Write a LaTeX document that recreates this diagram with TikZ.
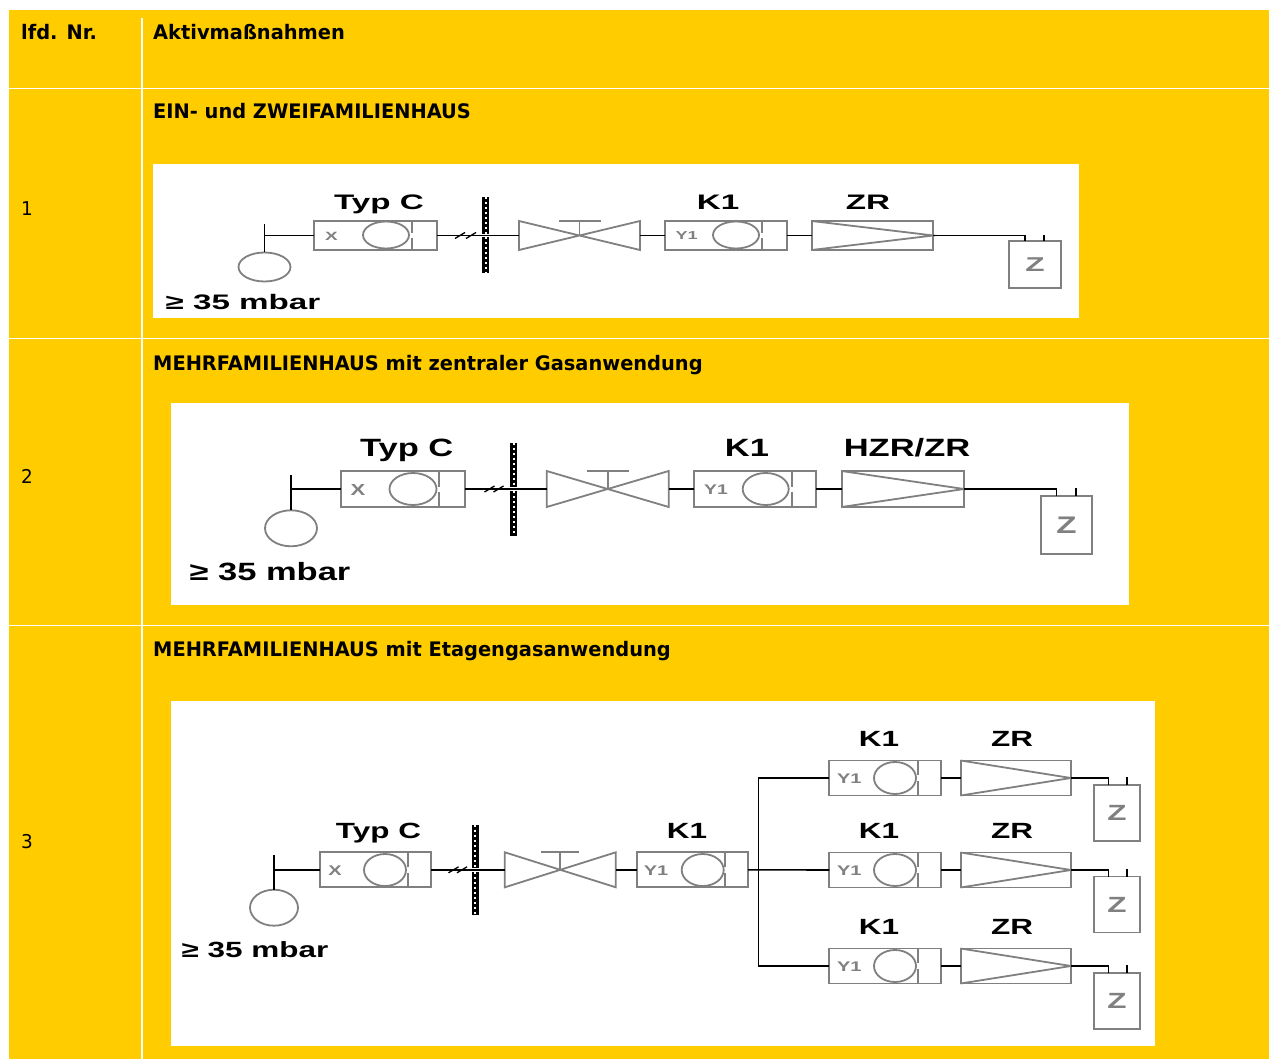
\documentclass[tikz,border=0pt]{standalone}
\usepackage{fontspec}
\usepackage{xcolor}
\setmainfont{DejaVu Sans}[FakeStretch=0.97]
\newfontfamily\labA[FakeStretch=1.58]{Liberation Sans}
\newfontfamily\labB[FakeStretch=1.38]{Liberation Sans}
\newfontfamily\labC[FakeStretch=1.43]{Liberation Sans}
\definecolor{tabgelb}{HTML}{FFCC00}
\definecolor{grau}{HTML}{808080}

% one px of the table = 1pt
\tikzset{
    kopf/.style={anchor=base west, inner sep=0pt, font=\fontsize{20}{22}\selectfont\bfseries},
    nummer/.style={anchor=base west, inner sep=0pt, font=\fontsize{19}{22}\selectfont},
    feld/.style={fill=white, draw=none},
    rahmen/.style={draw=grau, line width=1.8pt},
    leitung/.style={draw=black, line width=1.6pt},
    kasten/.style 2 args={rahmen, inner sep=0pt, outer sep=0pt, minimum width=#1pt, minimum height=#2pt},
    ventilfeld/.style 2 args={inner sep=0pt, outer sep=0pt, minimum width=#1pt, minimum height=#2pt},
    oval/.style 2 args={ellipse, rahmen, inner sep=0pt, outer sep=0pt, minimum width=#1pt, minimum height=#2pt},
    wandteil/.style 2 args={fill=black, inner sep=0pt, outer sep=0pt, minimum width=#1pt, minimum height=#2pt,
        path picture={\draw[white, line width=2pt, dash pattern=on 2pt off 3pt]
            (path picture bounding box.north) -- (path picture bounding box.south);}},
    stichwort/.style={anchor=base, inner sep=0pt, text=black},
    innen/.style={inner sep=0pt, text=grau},
}
\usetikzlibrary{shapes.geometric}

% divider of a pressure regulator, with the small gap at the middle
\newcommand{\trenn}[3]{
    \draw[rahmen] ([xshift=#2pt]#1.north) -- ([xshift=#2pt,yshift=#3pt]#1.center)
                  ([xshift=#2pt]#1.south) -- ([xshift=#2pt,yshift=-#3pt]#1.center);
}
\newcommand{\ventil}[2]{
    \draw[rahmen] (#1.north west) -- (#1.south east) -- (#1.north east) -- (#1.south west) -- cycle;
    \draw[rahmen] (#1.center) -- (#1.north) ([xshift=-#2pt]#1.north) -- ([xshift=#2pt]#1.north);
}
\newcommand{\konus}[1]{
    \draw[rahmen] (#1.north west) -- (#1.east) -- (#1.south west);
}
\newcommand{\schraeg}[3]{
    \draw[leitung, line width=1.3pt] ([shift={(#2-5,3)}]#1) -- ([shift={(#2+5,-3)}]#1)
                                     ([shift={(#3-5,3)}]#1) -- ([shift={(#3+5,-3)}]#1);
}

\begin{document}
\begin{tikzpicture}[x=1pt, y=-1pt]
    \useasboundingbox (0,0) rectangle (1269,1059);
    \fill[tabgelb] (9,10) rectangle (1269,1059);
    \draw[white, line width=1.3pt] (142,18) -- (142,1059);
    \draw[white, line width=1.1pt] (9,88.5) -- (1269,88.5) (9,338.5) -- (1269,338.5) (9,625.5) -- (1269,625.5);

    \node[kopf] (lfd) at (21,40) {lfd. Nr.};
    \node[kopf] (akt) at (153,40) {Aktivmaßnahmen};
    \node[nummer] (n1) at (21,216) {1};
    \node[nummer] (n2) at (21,483) {2};
    \node[nummer] (n3) at (21,848) {3};
    \node[kopf] (t1) at (153,119) {EIN- und ZWEIFAMILIENHAUS};
    \node[kopf] (t2) at (153,370) {MEHRFAMILIENHAUS mit zentraler Gasanwendung};
    \node[kopf] (t3) at (153,656) {MEHRFAMILIENHAUS mit Etagengasanwendung};

    % Zeile 1
    \fill[feld] (153,164) rectangle (1079,318);
    \node[oval={52}{29}] (m1) at (264.5,267) {};
    \coordinate (s1) at (264.5,224);
    \node[kasten={123}{29}] (r1) at (375.5,235.5) {};
    \node[innen, font=\labA\bfseries\fontsize{12}{12}\selectfont] (r1x) at (331.5,236) {X};
    \node[oval={46}{27}] (r1o) at (386,235) {};
    \trenn{r1}{36.2}{2.5}
    \node[wandteil={7.5}{36.5}] (w1a) at (485.5,215.75) {};
    \node[wandteil={7.5}{36.2}] (w1b) at (485.5,255.4) {};
    \node[ventilfeld={121}{29}] (v1) at (579.5,235.5) {};
    \ventil{v1}{21}
    \node[kasten={122}{29}] (k1) at (725.7,235.5) {};
    \node[innen, font=\labA\bfseries\fontsize{11.5}{12}\selectfont] (k1y) at (686.7,236) {Y1};
    \node[oval={46}{27}] (k1o) at (736,235) {};
    \trenn{k1}{36}{2.5}
    \node[kasten={121.6}{29}] (zr1) at (872.5,235.5) {};
    \konus{zr1}
    \node[kasten={51.7}{47}, text=grau, font=\labA\bfseries\fontsize{20}{20}\selectfont] (z1) at (1035,264.5) {Z};
    \draw[leitung] (m1.north) -- (s1);
    \draw[leitung] (s1 |- r1.west) -- (r1.west);
    \draw[leitung] (r1.east) -- (v1.west);
    \schraeg{r1.east}{23}{34}
    \draw[leitung] (v1.east) -- (k1.west);
    \draw[leitung] (k1.east) -- (zr1.west);
    \draw[leitung] (zr1.east) -| ([xshift=-10pt]z1.north);
    \draw[leitung] ([xshift=9pt]z1.north) -- ++(0,-6);
    \node[stichwort, font=\labA\bfseries\fontsize{21}{22}\selectfont] (l1a) at (379,210) {Typ C};
    \node[stichwort, font=\labA\bfseries\fontsize{21}{22}\selectfont] (l1b) at (718,210) {K1};
    \node[stichwort, font=\labA\bfseries\fontsize{21}{22}\selectfont] (l1c) at (868,210) {ZR};
    \node[stichwort, font=\labA\bfseries\fontsize{21}{22}\selectfont] (d1) at (243,310) {≥ 35 mbar};

    % Zeile 2
    \fill[feld] (171,403) rectangle (1129,605);
    \node[oval={52}{36}] (m2) at (291,528.3) {};
    \coordinate (s2) at (291,475);
    \node[kasten={124}{36}] (r2) at (403,489) {};
    \node[innen, font=\labB\bfseries\fontsize{16}{16}\selectfont] (r2x) at (358,490) {X};
    \node[oval={47}{32}] (r2o) at (413,489) {};
    \trenn{r2}{36}{2.5}
    \node[wandteil={7}{44}] (w2a) at (513.5,464.7) {};
    \node[wandteil={7}{44.7}] (w2b) at (513.5,513.35) {};
    \node[ventilfeld={122}{36}] (v2) at (607.7,489) {};
    \ventil{v2}{21}
    \node[kasten={122}{36}] (k2) at (755,489) {};
    \node[innen, font=\labB\bfseries\fontsize{14}{15}\selectfont] (k2y) at (716,490) {Y1};
    \node[oval={46}{32}] (k2o) at (765.7,489) {};
    \trenn{k2}{36.7}{2.5}
    \node[kasten={122.3}{36}] (zr2) at (902.8,489) {};
    \konus{zr2}
    \node[kasten={51.3}{57.7}, text=grau, font=\labB\bfseries\fontsize{24}{24}\selectfont] (z2) at (1066.4,524.9) {Z};
    \draw[leitung] (m2.north) -- (s2);
    \draw[leitung] (s2 |- r2.west) -- (r2.west);
    \draw[leitung] (r2.east) -- (v2.west);
    \schraeg{r2.east}{24.5}{33.5}
    \draw[leitung] (v2.east) -- (k2.west);
    \draw[leitung] (k2.east) -- (zr2.west);
    \draw[leitung] (zr2.east) -| ([xshift=-10pt]z2.north);
    \draw[leitung] ([xshift=9.5pt]z2.north) -- ++(0,-8);
    \node[stichwort, font=\labB\bfseries\fontsize{25}{26}\selectfont] (l2a) at (406.7,456.7) {Typ C};
    \node[stichwort, font=\labB\bfseries\fontsize{25}{26}\selectfont] (l2b) at (747,456.7) {K1};
    \node[stichwort, font=\labB\bfseries\fontsize{25}{26}\selectfont] (l2c) at (907,456.7) {HZR/ZR};
    \node[stichwort, font=\labB\bfseries\fontsize{25}{26}\selectfont] (d2) at (270,580) {≥ 35 mbar};

    % Zeile 3
    \fill[feld] (171,701) rectangle (1155,1046);
    \node[oval={48}{36}] (m3) at (274,907.7) {};
    \coordinate (s3) at (274,855);
    \node[kasten={111}{35}] (r3) at (375.5,869.8) {};
    \node[innen, font=\labC\bfseries\fontsize{14}{15}\selectfont] (r3x) at (335,871) {X};
    \node[oval={42}{32}] (r3o) at (385,870) {};
    \trenn{r3}{32.5}{3}
    \node[wandteil={7}{43}] (w3a) at (475,846.2) {};
    \node[wandteil={7}{43}] (w3b) at (475,893.5) {};
    \node[ventilfeld={111}{35}] (v3) at (560.3,869.8) {};
    \ventil{v3}{19}
    \node[kasten={111}{35}] (k3) at (692.5,869.8) {};
    \node[innen, font=\labC\bfseries\fontsize{14}{15}\selectfont] (k3y) at (656,871) {Y1};
    \node[oval={42}{32}] (k3o) at (702.7,870) {};
    \trenn{k3}{32.5}{3}
    \draw[leitung] (m3.north) -- (s3);
    \draw[leitung] (s3 |- r3.west) -- (r3.west);
    \draw[leitung] (r3.east) -- (v3.west);
    \schraeg{r3.east}{22.5}{31}
    \draw[leitung] (v3.east) -- (k3.west);
    \node[stichwort, font=\labC\bfseries\fontsize{22}{24}\selectfont] (l3a) at (378.5,838.3) {Typ C};
    \node[stichwort, font=\labC\bfseries\fontsize{22}{24}\selectfont] (l3b) at (687,838.3) {K1};
    \node[stichwort, font=\labC\bfseries\fontsize{22}{24}\selectfont] (d3) at (255,957) {≥ 35 mbar};
    \coordinate (busa) at (758.5,778);
    \coordinate (busb) at (758.5,966);
    \foreach \i/\yr/\yz/\yl in {1/778/813/746.7, 2/870/904.5/838.3, 3/966/1001.3/934} {
        \node[kasten={112}{35}] (rk\i) at (885.3,\yr) {};
        \node[innen, font=\labC\bfseries\fontsize{14}{15}\selectfont] (rk\i y) at (849.3,\yr+1) {Y1};
        \node[oval={42}{32}] (rk\i o) at (895,\yr) {};
        \trenn{rk\i}{32.4}{3}
        \node[kasten={110.3}{35}] (zk\i) at (1015.8,\yr) {};
        \konus{zk\i}
        \node[kasten={46}{56}, text=grau, font=\labC\bfseries\fontsize{22}{24}\selectfont] (zb\i) at (1117,\yz) {Z};
        \draw[leitung] (rk\i.east) -- (zk\i.west);
        \draw[leitung] (zk\i.east) -| ([xshift=-8.7pt]zb\i.north);
        \draw[leitung] ([xshift=9.7pt]zb\i.north) -- ++(0,-8);
        \node[stichwort, font=\labC\bfseries\fontsize{22}{24}\selectfont] (lk\i) at (879,\yl) {K1};
        \node[stichwort, font=\labC\bfseries\fontsize{22}{24}\selectfont] (lz\i) at (1012,\yl) {ZR};
    }
    \draw[leitung] (k3.east) -- (rk2.west);
    \draw[leitung] (rk1.west) -- (busa) -- (busb) -- (rk3.west);
\end{tikzpicture}
\end{document}
